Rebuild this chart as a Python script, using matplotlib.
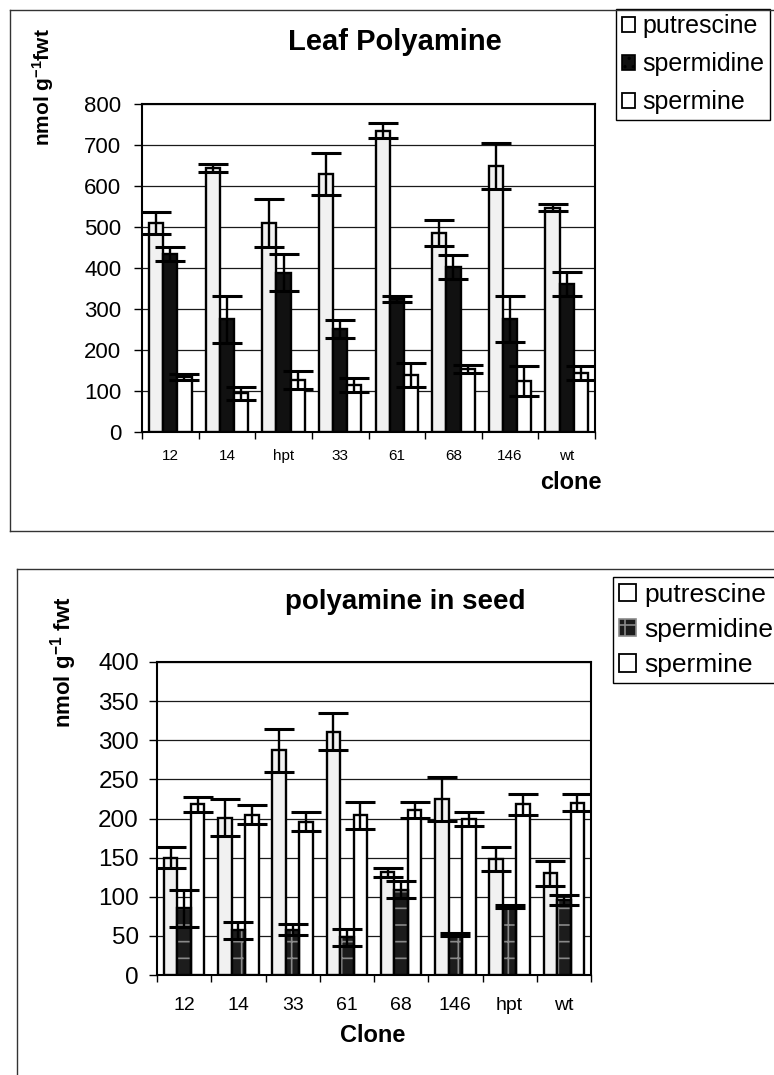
import matplotlib
matplotlib.use("Agg")
import matplotlib.pyplot as plt
import numpy as np
from matplotlib.lines import Line2D

plt.rcParams['font.family'] = ['Liberation Sans', 'DejaVu Sans']
plt.rcParams['mathtext.default'] = 'regular'
plt.rcParams['hatch.linewidth'] = 1.2

# ---------------- data ----------------
series = ['putrescine', 'spermidine', 'spermine']

leaf_clones = ['12', '14', 'hpt', '33', '61', '68', '146', 'wt']
leaf_put = [510, 643, 510, 629, 735, 486, 649, 547]
leaf_put_err = [27, 10, 58, 51, 18, 32, 57, 8]
leaf_spd = [434, 275, 388, 251, 324, 402, 276, 361]
leaf_spd_err = [17, 57, 45, 22, 7, 29, 56, 30]
leaf_spm = [135, 94, 127, 114, 139, 153, 125, 144]
leaf_spm_err = [7, 16, 22, 17, 30, 10, 37, 18]
leaf_yticks = [0, 100, 200, 300, 400, 500, 600, 700, 800]

seed_clones = ['12', '14', '33', '61', '68', '146', 'hpt', 'wt']
seed_put = [150, 201, 287, 311, 131, 225, 148, 130]
seed_put_err = [13, 24, 27, 24, 6, 28, 15, 16]
seed_spd = [85, 57, 58, 48, 109, 52, 88, 96]
seed_spd_err = [24, 11, 7, 11, 11, 2, 2, 6]
seed_spm = [218, 205, 196, 204, 211, 199, 218, 220]
seed_spm_err = [10, 12, 12, 17, 10, 9, 13, 11]
seed_yticks = [0, 50, 100, 150, 200, 250, 300, 350, 400]

W, H = 774, 1075
fig = plt.figure(figsize=(W / 100, H / 100), dpi=100)

def fx(x):
    return x / W

def fy(y):
    return 1 - y / H

def frame_line(x0, y0, x1, y1):
    fig.add_artist(Line2D([fx(x0), fx(x1)], [fy(y0), fy(y1)],
                          transform=fig.transFigure, color='#333333', lw=1.0))

# outer frames
frame_line(10, 10, 774, 10)
frame_line(10, 10, 10, 531)
frame_line(10, 531, 774, 531)
frame_line(17, 569, 774, 569)
frame_line(17, 569, 17, 1075)


def draw_panel(rect, clones, put, pe, spd, sde, spm, sme, yticks, ymax,
               tick_fs, xtick_fs, xpad, ypad, hatch_spd, leg_pos, leg_fs, hsize, lspace):
    l, t, r, b = rect
    ax = fig.add_axes([fx(l), fy(b), fx(r) - fx(l), fy(t) - fy(b)])
    x = np.arange(len(clones))
    w = 0.25
    ekw = dict(ecolor='black', elinewidth=1.7, capsize=11, capthick=2.2, zorder=5)
    ax.bar(x - w, put, w, color='#f1f1f1', edgecolor='black', lw=1.7, zorder=3,
           label=series[0])
    ax.errorbar(x - w, put, yerr=pe, fmt='none', **ekw)
    if hatch_spd:
        ax.bar(x, spd, w, color='#1c1c1c', edgecolor='#8a8a8a', hatch='+', lw=0, zorder=3)
        ax.bar(x, spd, w, fill=False, edgecolor='black', lw=1.7, zorder=3.5,
               label=series[1])
        leg_spd = plt.Rectangle((0, 0), 1, 1, facecolor='#1c1c1c', edgecolor='#8a8a8a',
                                hatch='+', lw=1.2)
    else:
        ax.bar(x, spd, w, color='#111111', edgecolor='black', lw=1.7, zorder=3,
               label=series[1])
        leg_spd = plt.Rectangle((0, 0), 1, 1, facecolor='#111111', edgecolor='black',
                                hatch='..', lw=1.2)
    ax.errorbar(x, spd, yerr=sde, fmt='none', **ekw)
    ax.bar(x + w, spm, w, color='white', edgecolor='black', lw=1.7, zorder=3,
           label=series[2])
    ax.errorbar(x + w, spm, yerr=sme, fmt='none', **ekw)

    ax.set_xlim(-0.5, len(clones) - 0.5)
    ax.set_ylim(0, ymax)
    ax.set_yticks(yticks)
    ax.set_yticklabels([str(v) for v in yticks], fontsize=tick_fs)
    ax.yaxis.grid(True, color='#1a1a1a', lw=0.9)
    ax.set_axisbelow(True)
    ax.set_xticks(x)
    ax.set_xticklabels(clones, fontsize=xtick_fs)
    ax.set_xticks(np.arange(len(clones) + 1) - 0.5, minor=True)
    ax.tick_params(axis='x', which='major', length=0, pad=xpad)
    ax.tick_params(axis='x', which='minor', length=5, width=1, direction='out')
    ax.tick_params(axis='y', length=6, width=1, direction='out', pad=ypad)
    for s in ax.spines.values():
        s.set_linewidth(1.5)
        s.set_color('black')

    white_p = plt.Rectangle((0, 0), 1, 1, facecolor='white', edgecolor='black', lw=1.3)
    leg = ax.legend([white_p, leg_spd, white_p], series, loc='upper left',
                    bbox_to_anchor=(fx(leg_pos[0]), fy(leg_pos[1])),
                    bbox_transform=fig.transFigure, fontsize=leg_fs,
                    frameon=True, fancybox=False, edgecolor='black', framealpha=1,
                    borderpad=0.22, handlelength=hsize, handleheight=hsize,
                    handletextpad=0.3, labelspacing=lspace, borderaxespad=0)
    leg.get_frame().set_linewidth(1.0)
    return ax


ax1 = draw_panel((142, 104, 595, 432), leaf_clones, leaf_put, leaf_put_err,
                 leaf_spd, leaf_spd_err, leaf_spm, leaf_spm_err, leaf_yticks, 800,
                 16, 11, 12, 9, False, (616, 9), 18, 0.55, 0.55)
ax2 = draw_panel((157, 662, 591, 975), seed_clones, seed_put, seed_put_err,
                 seed_spd, seed_spd_err, seed_spm, seed_spm_err, seed_yticks, 400,
                 17.5, 14, 16, 7, True, (613, 577), 19, 0.65, 0.42)

# titles and axis labels
fig.text(fx(395), fy(42), 'Leaf Polyamine', fontsize=21, fontweight='bold',
         ha='center', va='center')
fig.text(fx(405), fy(602), 'polyamine in seed', fontsize=20, fontweight='bold',
         ha='center', va='center')
fig.text(fx(43), fy(87), 'nmol g$^{-1}$fwt', fontsize=15, fontweight='bold',
         rotation=90, ha='center', va='center')
fig.text(fx(64), fy(662), 'nmol g$^{-1}$ fwt', fontsize=16, fontweight='bold',
         rotation=90, ha='center', va='center')
fig.text(fx(602), fy(483), 'clone', fontsize=17, fontweight='bold',
         ha='right', va='center')
fig.text(fx(373), fy(1036), 'Clone', fontsize=17, fontweight='bold',
         ha='center', va='center')

fig.savefig('out.png', dpi=100)
